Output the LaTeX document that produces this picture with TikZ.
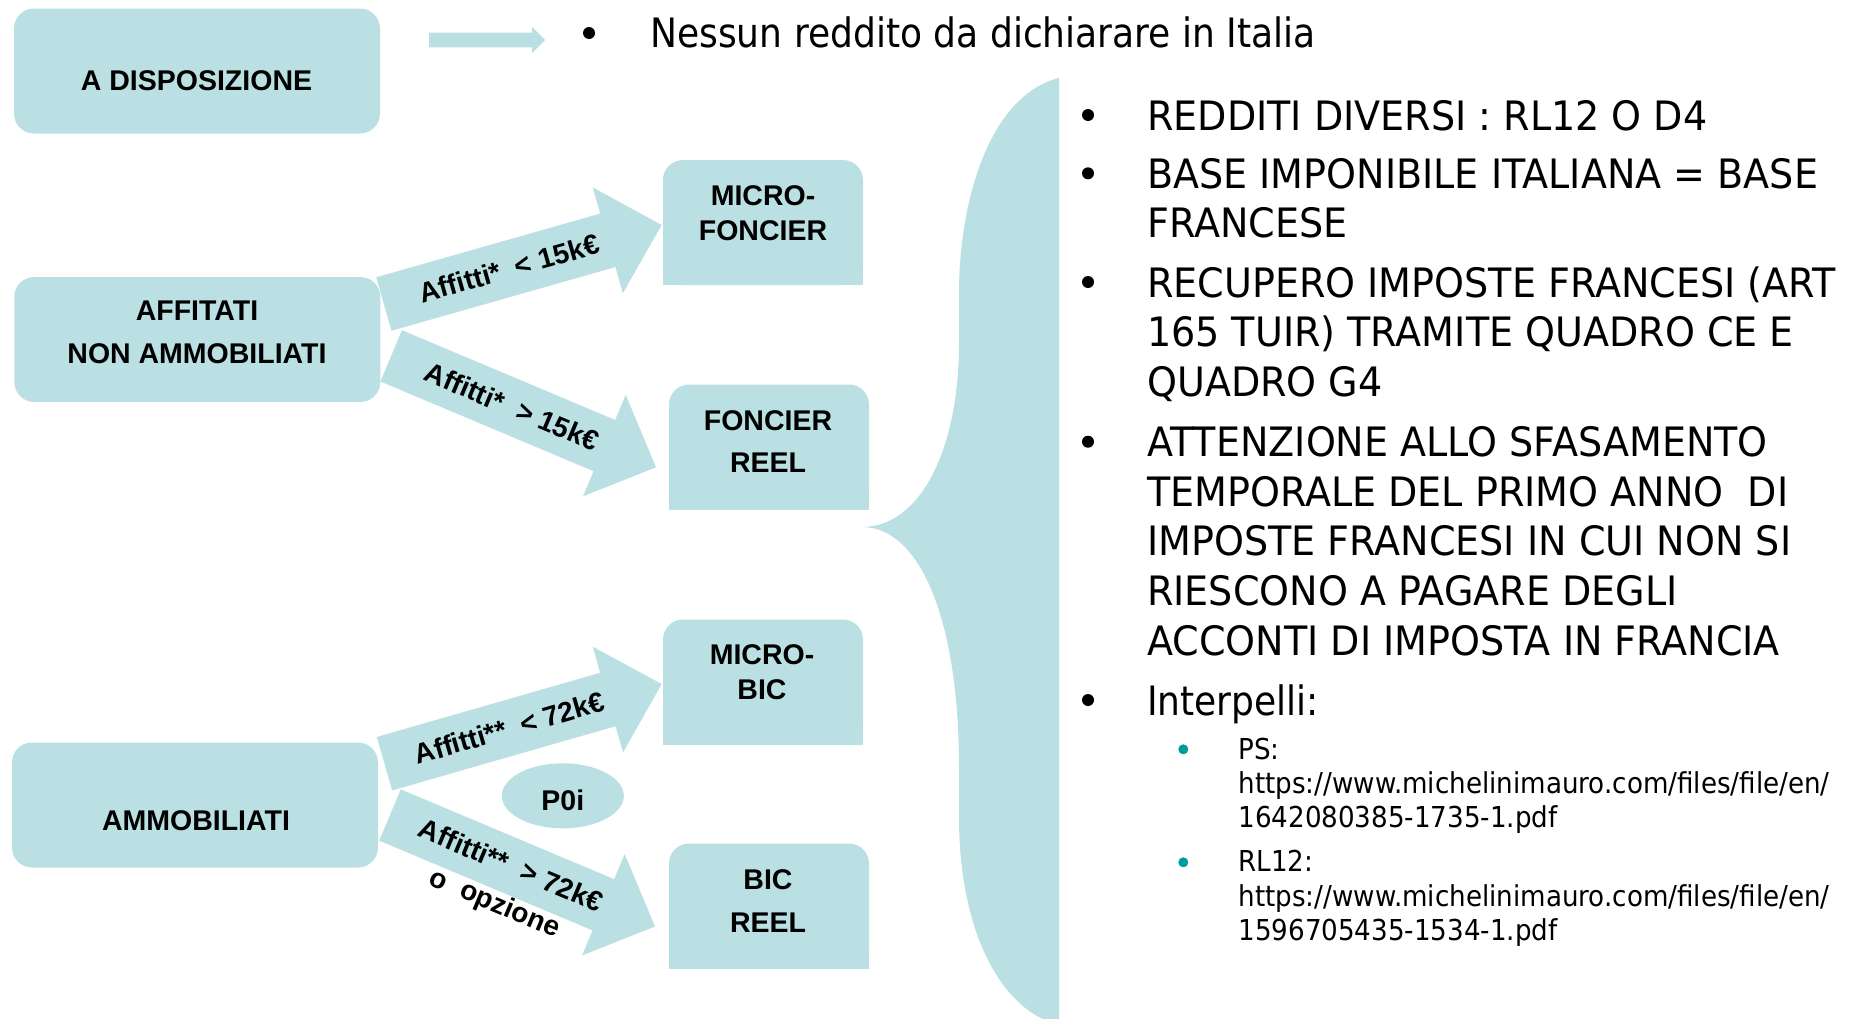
\documentclass[tikz,border=0pt]{standalone}
\usepackage{fontspec}
\usetikzlibrary{calc,shapes.geometric}
\setmainfont{Liberation Sans}
\newfontfamily\lblfont{Liberation Sans}
\newfontfamily\capsfont[FakeStretch=0.94]{DejaVu Sans}
\newfontfamily\lowfont[FakeStretch=0.89]{DejaVu Sans}
\newfontfamily\subfont[FakeStretch=0.908]{DejaVu Sans}
\definecolor{boxblue}{RGB}{186,224,227}
\definecolor{subteal}{RGB}{0,155,155}
\newcommand{\twol}[3]{\fontsize{28.5}{#1}\selectfont\begin{tabular}[t]{@{}c@{}}#2\\#3\end{tabular}}
\newcommand{\para}[1]{\begin{tabular}[t]{@{}l@{}}#1\end{tabular}}
% block arrow from #1 to #2 ; shaft half width #3 ; head half width #4 ; head length #5
\newcommand{\blockarrow}[5]{%
  \path let \p1=($(#2)-(#1)$) in \pgfextra{%
    \pgfmathsetmacro{\tmpang}{atan2(\y1,\x1)}%
    \pgfmathsetmacro{\tmplen}{veclen(\x1,\y1)}%
    \global\let\baang\tmpang \global\let\balen\tmplen};
  \fill[boxblue, shift={(#1)}, rotate=\baang]
    (0,-#3) -- ({\balen-#5},-#3) -- ({\balen-#5},-#4) -- (\balen,0)
    -- ({\balen-#5},#4) -- ({\balen-#5},#3) -- (0,#3) -- cycle;}
\tikzset{
  boxL/.style={fill=boxblue, rounded corners=20pt, inner sep=0pt, minimum width=366pt, minimum height=125pt},
  boxR/.style={fill=boxblue, rounded corners=20pt, inner sep=0pt, minimum width=200pt, minimum height=125pt},
  lbl/.style={font=\lblfont\bfseries\fontsize{28.5}{34}\selectfont, inner sep=0pt},
  albl/.style={font=\lblfont\bfseries\fontsize{28}{40}\selectfont, inner sep=0pt},
  maintxt/.style={font=\capsfont\fontsize{40.5}{49.6}\selectfont, inner sep=0pt, anchor=base west},
  lowtxt/.style={font=\lowfont\fontsize{40.5}{49.6}\selectfont, inner sep=0pt, anchor=base west},
  subtxt/.style={font=\subfont\fontsize{28.8}{34.3}\selectfont, inner sep=0pt, anchor=base west},
}
\begin{document}
\begin{tikzpicture}[x=1pt,y=-1pt]
\useasboundingbox (0,0) rectangle (1852,1018);
\fill[white] (0,0) rectangle (1852,1018);

% big brace
\fill[boxblue] (1059,78) .. controls (990,95) and (959,200) .. (959,293) -- (959,343)
  .. controls (959,450) and (920,527) .. (862,527)
  .. controls (920,527) and (959,620) .. (959,767) -- (959,817)
  .. controls (959,930) and (1000,1010) .. (1059,1025) -- cycle;

% left boxes
\node[boxL] (adisp) at (197,71) {};
\node[boxL] (aff) at (197.3,339.5) {};
\node[boxL] (amm) at (195,805) {};

% right boxes (rounded top only)
\node[boxR] (mf) at (763,222.5) {};
\node[boxR] (fr) at (769,447) {};
\node[boxR] (mb) at (763,682) {};
\node[boxR] (br) at (769,906) {};
\foreach \b in {mf,fr,mb,br} \fill[boxblue] (\b.south west) rectangle (\b.east);

% box labels
\node[lbl, anchor=base] (adispT) at (196.5,90) {A DISPOSIZIONE};
\node[lbl, anchor=base] (affT) at (197,320.6) {\twol{42.4}{AFFITATI}{NON AMMOBILIATI}};
\node[lbl, anchor=base] (ammT) at (196,830) {AMMOBILIATI};
\node[lbl, anchor=base] (mfT) at (763,205) {\twol{35.7}{MICRO-}{FONCIER}};
\node[lbl, anchor=base] (frT) at (768,430) {\twol{42.7}{FONCIER}{REEL}};
\node[lbl, anchor=base] (mbT) at (762,664) {\twol{35.7}{MICRO-}{BIC}};
\node[lbl, anchor=base] (brT) at (768,889.2) {\twol{43.1}{BIC}{REEL}};

% P0i
\node[ellipse, fill=boxblue, minimum width=122pt, minimum height=65pt, inner sep=0pt] (poi) at (562.8,795.8) {};
\node[lbl, anchor=base] (poiT) at (562.8,810.5) {P0i};

% arrow end points
\coordinate (a0s) at (429,40);      \coordinate (a0e) at (545,40);
\coordinate (a1s) at (383.85,304);  \coordinate (a1e) at (661.7,225);
\coordinate (a2s) at (391.2,355.85);\coordinate (a2e) at (656,467.3);
\coordinate (a3s) at (384.5,763.7); \coordinate (a3e) at (661.7,684);
\coordinate (a4s) at (390,815);     \coordinate (a4e) at (655,926.5);

\blockarrow{a0s}{a0e}{7.4}{13.2}{13}
\blockarrow{a1s}{a1e}{27.8}{55}{56}
\begin{scope}[shift={(a1s)}, rotate=\baang]
  \node[albl, rotate=\baang] (l1) at (130,0) {Affitti*\ \ < 15k€};
\end{scope}
\blockarrow{a2s}{a2e}{27.8}{55}{56}
\begin{scope}[shift={(a2s)}, rotate=\baang]
  \node[albl, rotate=\baang] (l2) at (131,0) {Affitti*\ \ > 15k€};
\end{scope}
\blockarrow{a3s}{a3e}{27.8}{55}{56}
\begin{scope}[shift={(a3s)}, rotate=\baang]
  \node[albl, rotate=\baang] (l3) at (130,0) {Affitti**\ \ < 72k€};
\end{scope}
\blockarrow{a4s}{a4e}{27.8}{55}{56}
\begin{scope}[shift={(a4s)}, rotate=\baang]
  \node[albl, rotate=\baang] (l4) at (131,21)
    {\begin{tabular}{@{}c@{}}Affitti**\ \ > 72k€\\o\ \ opzione\end{tabular}};
\end{scope}

% top line
\fill (589,33) circle[radius=6pt];
\node[lowtxt] (t0) at (650,47.5) {Nessun reddito da dichiarare in Italia};

% right text
\foreach \yy in {115,173.3,282,441.7,700} \fill (1088,\yy) circle[radius=6pt];
\node[maintxt] (t1) at (1147,130) {REDDITI DIVERSI : RL12 O D4};
\node[maintxt] (t2) at (1147,188.3) {\para{BASE IMPONIBILE ITALIANA = BASE\\FRANCESE}};
\node[maintxt] (t3) at (1147,297) {\para{RECUPERO IMPOSTE FRANCESI (ART\\165 TUIR) TRAMITE QUADRO CE E\\QUADRO G4}};
\node[maintxt] (t4) at (1147,456.7) {\para{ATTENZIONE ALLO SFASAMENTO\\TEMPORALE DEL PRIMO ANNO \ DI\\IMPOSTE FRANCESI IN CUI NON SI\\RIESCONO A PAGARE DEGLI\\ACCONTI DI IMPOSTA IN FRANCIA}};
\node[lowtxt] (t5) at (1147,715) {Interpelli:};
\fill[subteal] (1183.3,749.3) circle[radius=5pt];
\fill[subteal] (1183.3,862.3) circle[radius=5pt];
\node[subtxt] (s1) at (1238.3,759.3) {\para{PS:\\https://www.michelinimauro.com/files/file/en/\\1642080385-1735-1.pdf}};
\node[subtxt] (s2) at (1238.3,871.7) {\para{RL12:\\https://www.michelinimauro.com/files/file/en/\\1596705435-1534-1.pdf}};
\end{tikzpicture}
\end{document}
